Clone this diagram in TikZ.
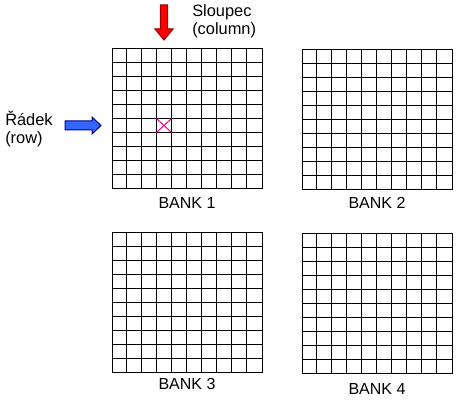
\documentclass[tikz,border=0pt]{standalone}
\usepackage{fontspec}
\setmainfont{Liberation Sans}
\usepackage{tikz}
\usetikzlibrary{positioning, calc}
\definecolor{arrowred}{RGB}{255,0,0}
\definecolor{arrowreddark}{RGB}{150,0,0}
\definecolor{arrowblue}{RGB}{51,102,255}
\definecolor{arrowbluedark}{RGB}{0,0,140}
\tikzset{%
	bank/.style={draw, rectangle, line width=0.75pt, minimum width=112.5pt,%
		minimum height=105pt, inner sep=0pt},
	gridline/.style={line width=0.75pt},
	banklabel/.style={inner sep=0pt, font=\fontsize{12}{14}\selectfont},
	textnode/.style={inner sep=0pt, align=left, anchor=north west,%
		font=\fontsize{12.3}{13.5}\selectfont},
	colarrow/.style={draw=arrowreddark, fill=arrowred, line width=0.75pt},
	rowarrow/.style={draw=arrowbluedark, fill=arrowblue, line width=0.75pt},
	hit/.style={draw=magenta, line width=0.75pt}
}

\begin{document}
\begin{tikzpicture}[x=0.75pt, y=-0.75pt]
	\useasboundingbox (0,0) rectangle (458,402);
	\node[bank] (bank1) at (187,119) {};
	\node[bank] (bank2) at (377,120) {};
	\node[bank] (bank3) at (187,303) {};
	\node[bank] (bank4) at (377,304) {};
	\foreach \b in {bank1, bank2, bank3, bank4}
		\foreach \i in {1,...,9} {
			\draw[gridline] ($(\b.north west)+(15*\i,0)$) -- ($(\b.south west)+(15*\i,0)$);
			\draw[gridline] ($(\b.north west)+(0,14*\i)$) -- ($(\b.north east)+(0,14*\i)$);
		}

	\node[banklabel, below=6pt of bank1] (lab1) {BANK 1};
	\node[banklabel, below=5.25pt of bank2] (lab2) {BANK 2};
	\node[banklabel, below=3.75pt of bank3] (lab3) {BANK 3};
	\node[banklabel, below=6.5pt of bank4] (lab4) {BANK 4};

	\node[textnode] (sloupec) at (192,4) {Sloupec\\(column)};
	\node[textnode] (radek) at (5,111) {Řádek\\(row)};

	\draw[colarrow] (160.3,5) -- (167.7,5) -- (167.7,29) -- (173,29) -- (164,40)
		-- (155,29) -- (160.3,29) -- cycle;
	\draw[rowarrow] (65,121) -- (92,121) -- (92,117) -- (101,125.5) -- (92,134)
		-- (92,130) -- (65,130) -- cycle;

	\draw[hit] ($(bank1.north west)+(45,70)$) -- ($(bank1.north west)+(60,84)$);
	\draw[hit] ($(bank1.north west)+(60,70)$) -- ($(bank1.north west)+(45,84)$);
\end{tikzpicture}
\end{document}
